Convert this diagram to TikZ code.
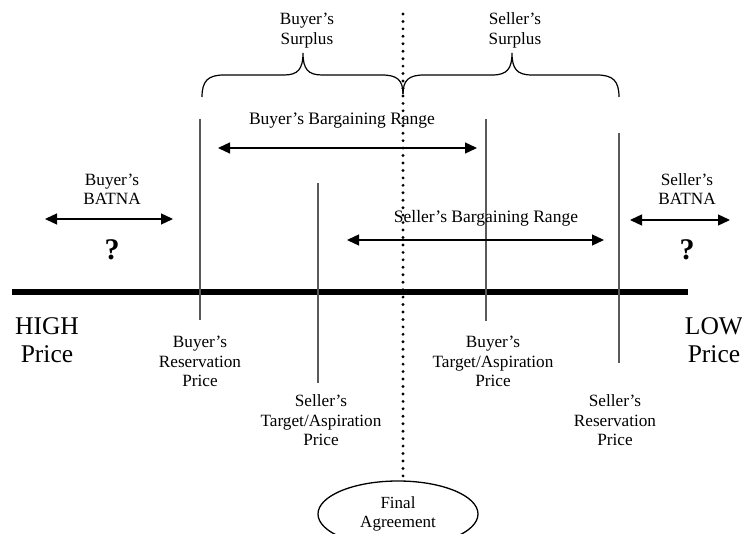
\documentclass[tikz,border=0pt]{standalone}
\usepackage{fontspec}
\setmainfont{Liberation Serif}
\usetikzlibrary{arrows.meta,shapes.geometric}
\tikzset{
  lbl/.style={align=center, inner sep=0pt, anchor=base, font=\fontsize{17.2}{19.8}\selectfont},
  rangelbl/.style={inner sep=0pt, anchor=base, font=\fontsize{17.5}{20}\selectfont},
  endlbl/.style={align=center, inner sep=0pt, anchor=base, font=\fontsize{25.5}{28}\selectfont},
  qmark/.style={inner sep=0pt, font=\fontsize{30}{30}\selectfont\bfseries},
  pricemark/.style={draw=black!65, line width=1.3pt},
  twoway/.style={line width=1.3pt, {Triangle[length=12pt,width=11pt]}-{Triangle[length=12pt,width=11pt]}},
  brace/.style={line width=1.2pt},
  axis/.style={line width=6pt},
  agreement/.style={draw, line width=1.3pt, ellipse, minimum width=160pt, minimum height=66pt, inner sep=0pt, align=center, font=\fontsize{17}{19.5}\selectfont}
}
\begin{document}
\begin{tikzpicture}[x=1pt,y=-1pt]
\useasboundingbox (0,0) rectangle (742,534);

% price axis
\coordinate (axL) at (12,292);
\coordinate (axR) at (688,292);
\draw[axis] (axL) -- (axR);

% price points
\coordinate (brT) at (200,119); \coordinate (brB) at (200,320);
\coordinate (stT) at (318,183); \coordinate (stB) at (318,383);
\coordinate (btT) at (486,119); \coordinate (btB) at (486,321);
\coordinate (srT) at (619,133); \coordinate (srB) at (619,363);
\draw[pricemark] (brT) -- (brB);
\draw[pricemark] (stT) -- (stB);
\draw[pricemark] (btT) -- (btB);
\draw[pricemark] (srT) -- (srB);

% final agreement
\node[agreement] (fa) at (398,514) {Final\\Agreement};
\coordinate (dotTop) at (403,14);
\draw[line width=3.2pt, line cap=round, dash pattern=on 0pt off 7.45pt] (dotTop) -- (fa.north -| dotTop);

% surplus braces
\draw[brace] (202,97) .. controls (202,81) and (208,75) .. (224,75) -- (284,75)
  .. controls (298,75) and (303,69) .. (303,53)
  .. controls (303,69) and (308,75) .. (322,75) -- (382,75)
  .. controls (397,75) and (403,80) .. (403,94);
\draw[brace] (403,94) .. controls (403,80) and (409,75) .. (424,75) -- (492,75)
  .. controls (507,75) and (512,69) .. (512,53)
  .. controls (512,69) and (517,75) .. (532,75) -- (597,75)
  .. controls (613,75) and (619,81) .. (619,97);
% (multi-line labels sit on the baseline of their last line)
\node[lbl] (bs) at (307,44.5) {Buyer’s\\Surplus};
\node[lbl] (ss) at (515,44.5) {Seller’s\\Surplus};

% bargaining ranges
\coordinate (bbL) at (218,148); \coordinate (bbR) at (477,148);
\draw[twoway] (bbL) -- (bbR);
\node[rangelbl] (bbr) at (342,125) {Buyer’s Bargaining Range};
\coordinate (sbL) at (347,240); \coordinate (sbR) at (604,240);
\draw[twoway] (sbL) -- (sbR);
\node[rangelbl] (sbr) at (486,223) {Seller’s Bargaining Range};

% BATNAs
\coordinate (baL) at (45,219); \coordinate (baR) at (173,219);
\draw[twoway] (baL) -- (baR);
\node[lbl] (bb) at (112,205) {Buyer’s\\BATNA};
\node[qmark] (bq) at (112,250) {?};
\coordinate (saL) at (630,220); \coordinate (saR) at (730,220);
\draw[twoway] (saL) -- (saR);
\node[lbl] (sb) at (687,205) {Seller’s\\BATNA};
\node[qmark] (sq) at (687,250) {?};

% axis ends
\node[endlbl] (high) at (47,363) {HIGH\\Price};
\node[endlbl] (low) at (714,363) {LOW\\Price};

% price labels
\node[lbl] (brl) at (200,387) {Buyer’s\\Reservation\\Price};
\node[lbl] (stl) at (321,446) {Seller’s\\Target/Aspiration\\Price};
\node[lbl] (btl) at (493,387) {Buyer’s\\Target/Aspiration\\Price};
\node[lbl] (srl) at (615,446) {Seller’s\\Reservation\\Price};
\end{tikzpicture}
\end{document}
